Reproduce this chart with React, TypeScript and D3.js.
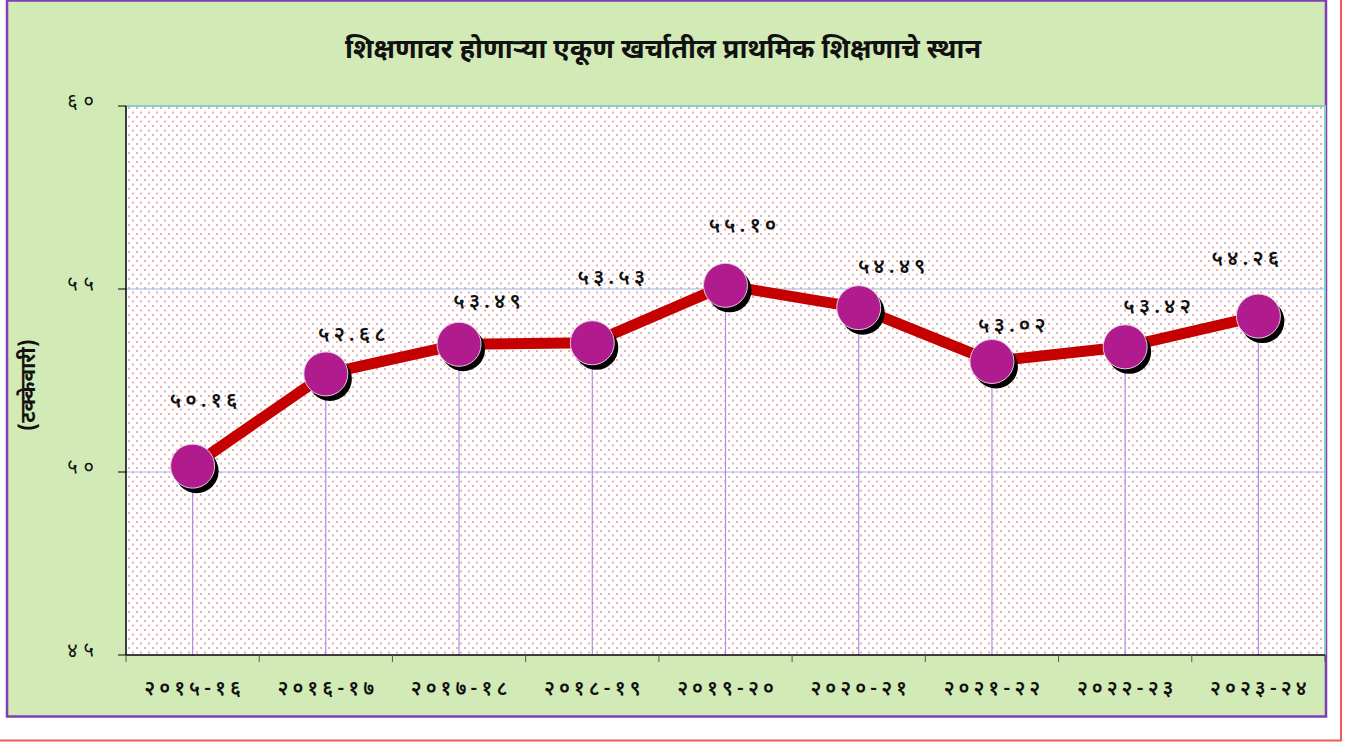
import React, { useEffect, useRef } from 'react';
import * as d3 from 'd3';

const categories = ['२०१५-१६', '२०१६-१७', '२०१७-१८', '२०१८-१९', '२०१९-२०', '२०२०-२१', '२०२१-२२', '२०२२-२३', '२०२३-२४'];
const values = [50.16, 52.68, 53.49, 53.53, 55.10, 54.49, 53.02, 53.42, 54.26];
const valueLabels = ['५०.१६', '५२.६८', '५३.४९', '५३.५३', '५५.१०', '५४.४९', '५३.०२', '५३.४२', '५४.२६'];
const yTicks = [45, 50, 55, 60];
const yTickLabels = ['४५', '५०', '५५', '६०'];

// hand-placed data label offsets (px from the marker centre), as in the original
const labelDx = [11, 26, 28, 19, 17, 33, 20, 32, -13];
const labelDy = [-65, -39, -42, -65, -59, -41, -35, -40, -57];

const title = 'शिक्षणावर होणाऱ्या एकूण खर्चातील प्राथमिक शिक्षणाचे स्थान';
const yTitle = '(टक्केवारी)';

const FONT = "'Noto Sans Devanagari', 'Lohit Devanagari', 'Mangal', 'Noto Sans', sans-serif";

const App: React.FC = () => {
  const svgRef = useRef<SVGSVGElement>(null);

  useEffect(() => {
    if (!svgRef.current) return;
    const root = d3.select(svgRef.current);
    root.selectAll('*').remove();

    const W = 1352, H = 742;
    const plot = { left: 126, top: 106, right: 1325, bottom: 655 };

    const defs = root.append('defs');
    const pat = defs.append('pattern')
      .attr('id', 'dots')
      .attr('width', 8).attr('height', 9)
      .attr('patternUnits', 'userSpaceOnUse')
      .attr('x', plot.left).attr('y', plot.top);
    pat.append('rect').attr('width', 8).attr('height', 9).attr('fill', '#ffffff');
    pat.append('rect').attr('x', 2).attr('y', 1).attr('width', 2).attr('height', 2).attr('fill', '#e6b0b8');
    pat.append('rect').attr('x', 6).attr('y', 5.5).attr('width', 2).attr('height', 2).attr('fill', '#e6b0b8');

    root.attr('width', W).attr('height', H);
    root.append('rect').attr('width', W).attr('height', H).attr('fill', '#ffffff');

    // outer red frame
    root.append('path')
      .attr('d', `M1341,0 V740.5 H0`)
      .attr('fill', 'none').attr('stroke', '#f05a5a').attr('stroke-width', 2);

    // green chart area
    root.append('rect')
      .attr('x', 7).attr('y', 0.5).attr('width', 1319).attr('height', 716)
      .attr('fill', '#d2eab6').attr('stroke', '#7d3fb3').attr('stroke-width', 2.5);

    const x = d3.scaleBand<string>().domain(categories).range([plot.left, plot.right]);
    const y = d3.scaleLinear().domain([45, 60]).range([plot.bottom, plot.top]);
    const cx = (c: string) => (x(c) || 0) + x.bandwidth() / 2;

    // plot background
    root.append('rect')
      .attr('x', plot.left).attr('y', plot.top)
      .attr('width', plot.right - plot.left).attr('height', plot.bottom - plot.top)
      .attr('fill', 'url(#dots)');

    // horizontal grid
    root.append('g').selectAll('line')
      .data(yTicks.filter(t => t > 45 && t < 60))
      .enter().append('line')
      .attr('x1', plot.left).attr('x2', plot.right)
      .attr('y1', d => y(d)).attr('y2', d => y(d))
      .attr('stroke', '#9fb3dd').attr('stroke-width', 1);

    // top and right edges of plot
    root.append('path')
      .attr('d', `M${plot.left},${plot.top} H${plot.right} V${plot.bottom}`)
      .attr('fill', 'none').attr('stroke', '#8ccfc0').attr('stroke-width', 2);

    // drop lines
    root.append('g').selectAll('line')
      .data(categories)
      .enter().append('line')
      .attr('x1', d => cx(d)).attr('x2', d => cx(d))
      .attr('y1', (d, i) => y(values[i])).attr('y2', plot.bottom)
      .attr('stroke', '#b58be0').attr('stroke-width', 1.2);

    // axes
    const axisG = root.append('g');
    axisG.append('line')
      .attr('x1', plot.left).attr('x2', plot.left)
      .attr('y1', plot.top).attr('y2', plot.bottom)
      .attr('stroke', '#000').attr('stroke-width', 1.5);
    axisG.append('line')
      .attr('x1', plot.left).attr('x2', plot.right)
      .attr('y1', plot.bottom).attr('y2', plot.bottom)
      .attr('stroke', '#000').attr('stroke-width', 1.5);
    axisG.selectAll('.ytick')
      .data(yTicks)
      .enter().append('line')
      .attr('x1', plot.left - 8).attr('x2', plot.left)
      .attr('y1', d => y(d)).attr('y2', d => y(d))
      .attr('stroke', '#000').attr('stroke-width', 1);
    const xEdges = [...categories.map(c => x(c) || 0), plot.right];
    axisG.selectAll('.xtick')
      .data(xEdges)
      .enter().append('line')
      .attr('x1', d => d).attr('x2', d => d)
      .attr('y1', plot.bottom).attr('y2', plot.bottom + 7)
      .attr('stroke', '#555').attr('stroke-width', 1);

    // y tick labels
    root.append('g').selectAll('text')
      .data(yTicks)
      .enter().append('text')
      .attr('x', 100).attr('y', d => y(d) + 2)
      .attr('text-anchor', 'end')
      .attr('font-family', FONT).attr('font-size', 20)
      .attr('letter-spacing', 6)
      .attr('fill', '#111')
      .text((d, i) => yTickLabels[i]);

    // x tick labels
    root.append('g').selectAll('text')
      .data(categories)
      .enter().append('text')
      .attr('x', d => cx(d) + 2).attr('y', 695)
      .attr('text-anchor', 'middle')
      .attr('font-family', FONT).attr('font-size', 20).attr('font-weight', 600)
      .attr('letter-spacing', 4)
      .attr('fill', '#111')
      .text(d => d);

    // line
    const line = d3.line<number>()
      .x((d, i) => cx(categories[i]))
      .y(d => y(d));
    root.append('path')
      .datum(values)
      .attr('d', line)
      .attr('fill', 'none').attr('stroke', '#c40000')
      .attr('stroke-width', 11).attr('stroke-linejoin', 'round');

    // markers: shadow then circle
    const marks = root.append('g');
    marks.selectAll('.shadow')
      .data(values)
      .enter().append('circle')
      .attr('cx', (d, i) => cx(categories[i]) + 4)
      .attr('cy', d => y(d) + 5)
      .attr('r', 22).attr('fill', '#000');
    marks.selectAll('.dot')
      .data(values)
      .enter().append('circle')
      .attr('cx', (d, i) => cx(categories[i]))
      .attr('cy', d => y(d))
      .attr('r', 22)
      .attr('fill', '#b01c8e').attr('stroke', '#e8c8e0').attr('stroke-width', 1);

    // value labels
    root.append('g').selectAll('text')
      .data(values)
      .enter().append('text')
      .attr('x', (d, i) => cx(categories[i]) + labelDx[i] + 2)
      .attr('y', (d, i) => y(d) + labelDy[i] + 6)
      .attr('text-anchor', 'middle')
      .attr('font-family', FONT).attr('font-size', 21).attr('font-weight', 600)
      .attr('letter-spacing', 4)
      .attr('fill', '#111')
      .text((d, i) => valueLabels[i]);

    // title
    root.append('text')
      .attr('x', 663).attr('y', 58)
      .attr('text-anchor', 'middle')
      .attr('font-family', FONT).attr('font-size', 27).attr('font-weight', 700)
      .attr('fill', '#111')
      .text(title);

    // y title
    root.append('text')
      .attr('transform', `translate(35,385) rotate(-90)`)
      .attr('text-anchor', 'middle')
      .attr('font-family', FONT).attr('font-size', 21).attr('font-weight', 700)
      .attr('fill', '#111')
      .text(yTitle);
  }, []);

  return (
    <div style={{ position: 'fixed', left: 0, top: 0 }}>
      <svg ref={svgRef} style={{ display: 'block' }}></svg>
    </div>
  );
};

export default App;
